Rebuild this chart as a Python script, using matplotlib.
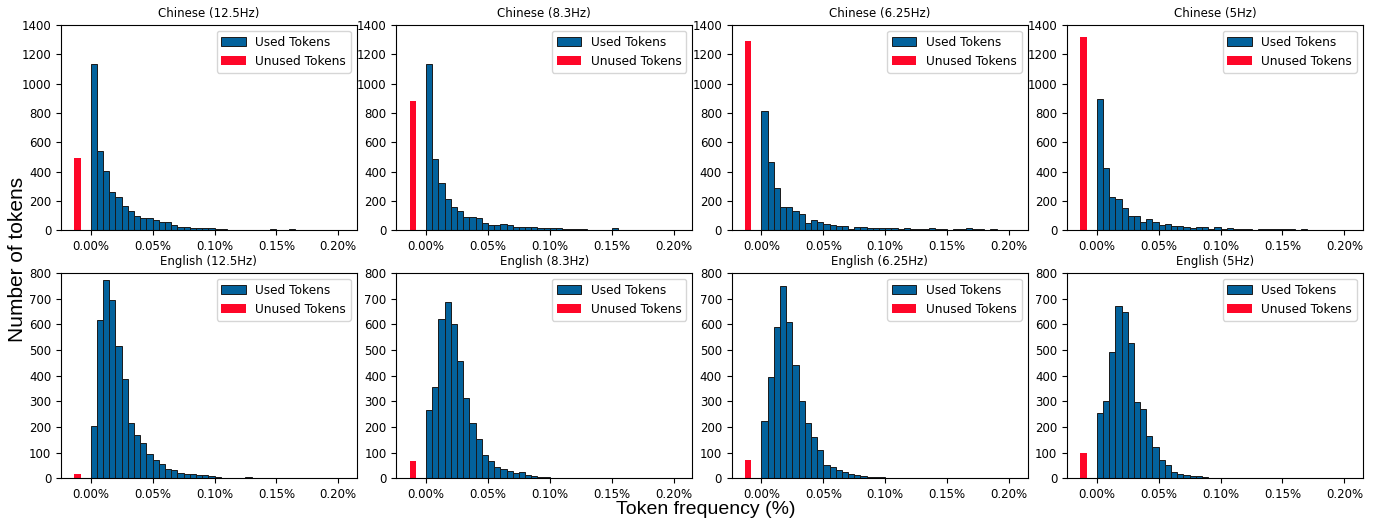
import matplotlib
matplotlib.use('Agg')
import matplotlib.pyplot as plt
import numpy as np
from matplotlib.ticker import FuncFormatter

# bin edges in percent, 40 bins of 0.005 %
bin_edges = np.arange(0.0, 0.2, 0.005)

titles = ['Chinese (12.5Hz)', 'Chinese (8.3Hz)', 'Chinese (6.25Hz)', 'Chinese (5Hz)',
          'English (12.5Hz)', 'English (8.3Hz)', 'English (6.25Hz)', 'English (5Hz)']

zh_125 = [1134, 538, 403, 263, 225, 167, 135, 99, 83, 83, 68, 58, 58, 34, 25, 25, 18, 18, 16, 16,
          11, 11, 5, 4, 3, 3, 5, 3, 2, 7, 3, 2, 6, 2, 2, 4, 1, 3, 1, 0]
zh_83 = [1134, 488, 326, 212, 158, 133, 90, 88, 83, 47, 38, 38, 43, 36, 22, 22, 20, 20, 16, 16,
         14, 14, 9, 7, 7, 7, 5, 0, 4, 3, 16, 4, 3, 2, 4, 2, 3, 2, 5, 2]
zh_625 = [815, 466, 286, 162, 158, 133, 113, 47, 68, 59, 43, 38, 32, 32, 11, 25, 22, 16, 16, 16,
          18, 18, 9, 16, 7, 11, 9, 16, 7, 7, 5, 11, 11, 13, 7, 7, 5, 7, 0, 2]
zh_5 = [893, 428, 230, 212, 151, 95, 99, 56, 77, 54, 36, 45, 27, 27, 20, 16, 25, 20, 11, 22,
        11, 14, 9, 9, 7, 5, 11, 11, 7, 7, 11, 7, 5, 9, 2, 5, 5, 5, 2, 0]
en_125 = [203, 616, 773, 694, 515, 386, 214, 170, 138, 94, 72, 55, 35, 33, 20, 17, 17, 14, 12, 9,
          5, 3, 2, 2, 1, 5, 2, 1, 1, 2, 3, 1, 1, 2, 1, 2, 1, 0, 1, 0]
en_83 = [265, 354, 620, 688, 603, 456, 312, 214, 155, 89, 68, 46, 35, 30, 22, 26, 13, 9, 7, 5,
         3, 2, 1, 2, 1, 1, 2, 1, 0, 3, 1, 1, 0, 2, 1, 0, 1, 2, 1, 0]
en_625 = [224, 393, 591, 748, 610, 440, 301, 214, 161, 109, 50, 46, 33, 26, 17, 13, 9, 7, 5, 5,
          3, 2, 2, 3, 1, 1, 2, 1, 1, 2, 1, 0, 1, 1, 1, 1, 2, 0, 2, 0]
en_5 = [254, 303, 493, 671, 647, 527, 296, 270, 166, 121, 71, 51, 25, 18, 13, 9, 8, 5, 3, 2,
        2, 1, 2, 1, 2, 1, 1, 0, 1, 1, 0, 1, 1, 0, 1, 0, 1, 0, 0, 0]
used_counts = [zh_125, zh_83, zh_625, zh_5, en_125, en_83, en_625, en_5]

unused_counts = [490, 882, 1292, 1316, 15, 68, 72, 100]
unused_pos = -0.0107

blue = '#03629c'
red = '#fe0628'

fig, axs = plt.subplots(2, 4, figsize=(13.83, 5.19), dpi=100)
fig.subplots_adjust(left=0.0441, right=0.9855, top=0.9518, bottom=0.0784,
                    wspace=0.1334, hspace=0.208)

pct = FuncFormatter(lambda v, p: '%.2f%%' % v)

for i, ax in enumerate(axs.flat):
  ax.bar(bin_edges, used_counts[i], width=0.005, align='edge', color=blue,
         edgecolor='#1a1a1a', linewidth=0.7, label='Used Tokens')
  ax.bar(unused_pos, unused_counts[i], width=0.005, color=red,
         label='Unused Tokens')
  ax.set_xlim(-0.024, 0.215)
  ax.set_xticks([0.0, 0.05, 0.10, 0.15, 0.20])
  ax.xaxis.set_major_formatter(pct)
  if i < 4:
    ax.set_ylim(0, 1400)
    ax.set_yticks(np.arange(0, 1401, 200))
  else:
    ax.set_ylim(0, 800)
    ax.set_yticks(np.arange(0, 801, 100))
  ax.tick_params(labelsize=8.5)
  ax.set_title(titles[i], fontsize=8.5)
  ax.legend(loc='upper right', fontsize=8.7)

fig.text(0.013, 0.5, 'Number of tokens', rotation=90, va='center', ha='center',
         fontsize=15, family='Liberation Sans')
fig.text(0.51, 0.019, 'Token frequency (%)', va='center', ha='center',
         fontsize=14, family='Liberation Sans')

fig.savefig('out.png', dpi=100)
